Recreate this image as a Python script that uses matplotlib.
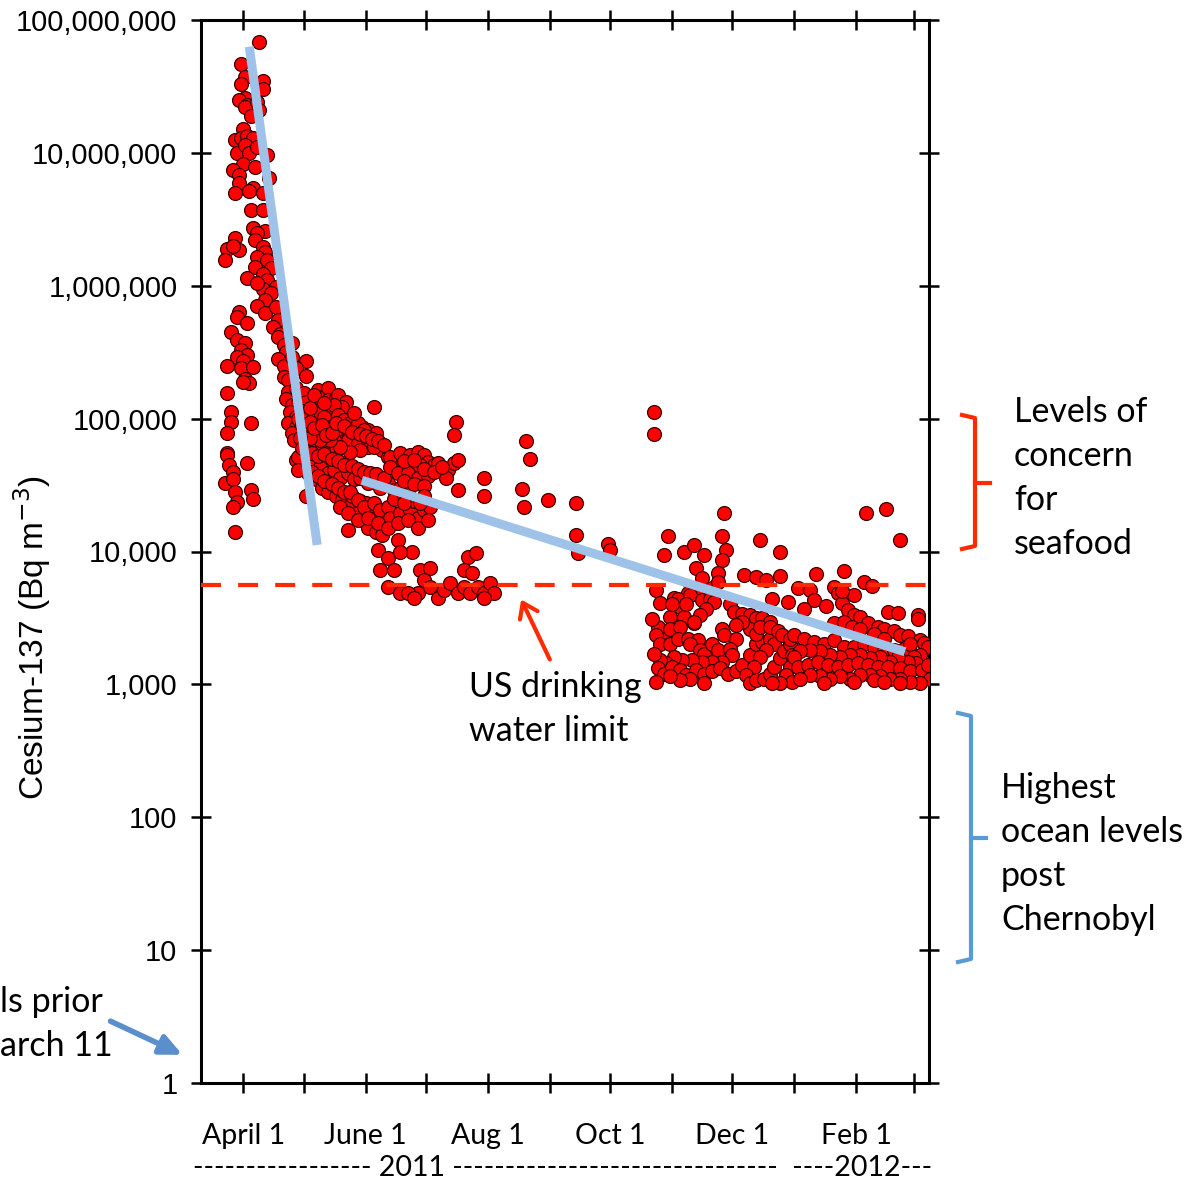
import numpy as np
import matplotlib
matplotlib.use('Agg')
import matplotlib.pyplot as plt
from matplotlib.lines import Line2D
from matplotlib.patches import FancyArrowPatch
from matplotlib.ticker import NullLocator

# ---------------- data (x = days after 2011-04-01, y = Cs-137 in Bq m^-3) ----------------
peak_pts = [(8, 6.8e7), (-1, 4.7e7), (1, 3.7e7), (10, 3.5e7), (-1, 3.3e7), (10, 3.0e7), (1, 2.6e7), (-2, 2.5e7),
            (2, 2.3e7), (1, 2.2e7), (7, 2.4e7), (8, 2.1e7), (4, 1.9e7), (0, 1.5e7), (-4, 1.26e7), (-1, 1.3e7),
            (2, 1.35e7), (5, 1.3e7), (-3, 1.0e7), (1, 1.15e7), (3, 1.0e7), (7, 1.1e7), (12, 9.6e6), (0, 8.3e6),
            (6, 7.8e6), (-5, 7.4e6), (-2, 6.8e6), (13, 6.5e6), (-2, 5.9e6), (-4, 5.0e6), (5, 5.4e6), (10, 5.0e6),
            (3, 5.2e6), (4, 3.7e6), (10, 3.7e6), (5, 2.7e6), (11, 2.6e6), (7, 2.5e6), (-4, 2.3e6), (-8, 1.9e6),
            (-2, 1.85e6), (-5, 2.0e6), (-9, 1.55e6), (6, 2.2e6), (10, 1.95e6), (11, 1.78e6), (7, 1.66e6), (12, 1.55e6),
            (14, 1.35e6), (6, 1.38e6), (10, 1.23e6), (2, 1.15e6), (12, 1.1e6), (16, 9.8e5), (10, 9.5e5), (14, 8.8e5),
            (7, 1.05e6), (11, 7.8e5), (7, 7.1e5), (11, 6.2e5), (16, 6.9e5), (17, 5.5e5), (15, 4.9e5), (18, 4.3e5)]

early_low_pts = [(-2, 6.3e5), (-3, 5.8e5), (2, 5.2e5), (-6, 4.5e5), (-3, 3.9e5), (1, 3.7e5), (-1, 3.3e5), (2, 3.0e5),
                 (-3, 2.9e5), (0, 2.7e5), (-8, 2.5e5), (-1, 2.4e5), (5, 2.45e5), (1, 2.0e5), (3, 1.85e5), (0, 1.9e5),
                 (-8, 1.55e5), (-6, 1.12e5), (-6, 9.4e4), (4, 9.3e4), (-8, 7.8e4), (-8, 5.5e4), (-8, 5.3e4), (-7, 4.5e4),
                 (2, 4.6e4), (-5, 4.0e4), (-9, 3.3e4), (-5, 3.5e4), (-4, 2.8e4), (4, 2.9e4), (5, 2.5e4), (-3, 2.35e4),
                 (-5, 2.15e4), (-4, 1.4e4)]

decline_pts = [(17, 4.1e5), (20, 3.6e5), (24, 3.7e5), (21, 3.2e5), (17, 2.8e5), (20, 2.5e5), (24, 2.9e5), (31, 2.7e5),
               (26, 2.4e5), (31, 2.1e5), (20, 2.05e5), (22, 1.95e5), (22, 1.6e5), (26, 1.7e5), (30, 1.55e5), (21, 1.4e5),
               (24, 1.26e5), (27, 1.3e5), (31, 1.33e5), (23, 1.12e5), (26, 1.03e5), (22, 9.3e4), (26, 8.7e4), (24, 7.8e4),
               (25, 6.9e4), (37, 1.63e5), (42, 1.7e5), (37, 1.45e5), (38, 1.12e5), (42, 1.38e5), (46, 1.42e5), (47, 1.5e5),
               (51, 1.33e5), (49, 1.23e5), (44, 1.1e5), (47, 1.03e5), (52, 9.8e4), (56, 9.3e4), (59, 8.7e4), (62, 8.2e4),
               (66, 7.8e4), (65, 1.22e5),
               (31, 8.7e4), (34, 7.8e4), (37, 7.2e4), (41, 8.2e4), (44, 8.7e4), (47, 7.2e4), (51, 7.8e4), (32, 6.5e4),
               (36, 5.8e4), (39, 6.1e4), (42, 6.5e4), (46, 5.8e4), (49, 6.1e4), (52, 6.5e4), (56, 7.2e4), (59, 6.9e4),
               (62, 6.1e4), (66, 6.5e4), (69, 5.8e4), (72, 5.1e4),
               (26, 4.9e4), (30, 4.3e4), (32, 3.9e4), (36, 3.5e4), (39, 3.0e4), (42, 2.8e4), (46, 2.6e4), (49, 2.45e4),
               (52, 2.15e4), (56, 1.95e4), (59, 1.73e4), (62, 1.5e4), (66, 1.4e4), (69, 1.32e4), (31, 2.6e4),
               (45, 1.26e5), (40, 1.03e5), (47, 1.07e5), (50, 9.8e4), (43, 8.7e4), (48, 8.5e4), (53, 9.3e4), (57, 9.3e4),
               (60, 8.2e4), (55, 7.5e4), (52, 6.9e4), (57, 6.5e4), (62, 6.9e4), (65, 6.1e4), (58, 5.8e4), (53, 5.6e4),
               (48, 6.1e4), (43, 6.9e4), (38, 6.9e4), (33, 7.2e4), (28, 7.2e4), (27, 5.1e4), (27, 4.1e4), (32, 4.6e4),
               (35, 4.9e4), (38, 4.3e4), (42, 3.9e4), (45, 4.1e4), (48, 3.6e4), (52, 3.9e4), (55, 3.5e4), (58, 3.6e4),
               (62, 3.3e4), (65, 3.5e4), (68, 3.0e4), (72, 3.3e4), (75, 2.9e4), (78, 3.0e4), (82, 2.8e4),
               (27, 1.0e5), (29, 9.0e4), (33, 9.5e4), (35, 8.5e4), (39, 9.0e4), (41, 7.5e4), (44, 7.8e4), (46, 9.3e4),
               (50, 8.8e4), (54, 8.0e4), (58, 7.6e4), (61, 7.4e4), (64, 7.0e4), (67, 6.8e4), (70, 6.3e4), (29, 6.0e4),
               (34, 5.5e4), (37, 5.2e4), (40, 5.4e4), (44, 5.0e4), (47, 4.8e4), (50, 4.5e4), (54, 4.4e4), (57, 4.2e4),
               (60, 4.0e4), (63, 3.9e4), (66, 3.8e4), (70, 3.6e4), (34, 4.0e4), (37, 3.7e4), (40, 3.4e4), (44, 3.2e4),
               (47, 3.0e4), (50, 2.8e4), (54, 2.6e4), (58, 2.4e4), (61, 2.3e4), (64, 2.0e4), (68, 1.9e4), (71, 1.7e4),
               (74, 1.6e4), (29, 1.15e5), (33, 1.2e5), (35, 1.5e5), (40, 1.3e5), (55, 1.1e5)]

summer_pts = [(73, 5.1e4), (78, 5.5e4), (83, 5.3e4), (87, 5.6e4), (90, 5.3e4), (92, 4.7e4), (88, 4.5e4), (83, 4.2e4),
              (78, 4.3e4), (73, 4.3e4), (77, 3.9e4), (82, 3.9e4), (87, 3.6e4), (92, 3.7e4), (95, 4.5e4), (97, 4.6e4),
              (102, 4.1e4), (105, 4.6e4), (107, 4.9e4), (101, 3.6e4), (106, 9.4e4), (105, 7.5e4), (107, 2.9e4),
              (120, 3.6e4), (120, 2.6e4),
              (53, 2.8e4), (57, 2.45e4), (60, 2.15e4), (65, 2.3e4), (68, 2.05e4), (72, 2.15e4), (73, 1.8e4), (78, 1.95e4),
              (83, 2.05e4), (87, 1.8e4), (90, 2.05e4), (93, 2.15e4), (48, 2.15e4), (52, 1.95e4), (57, 1.73e4),
              (62, 1.8e4), (67, 1.63e4), (72, 1.5e4), (77, 1.63e4), (82, 1.73e4), (87, 1.5e4), (92, 1.73e4),
              (52, 1.45e4), (67, 1.02e4), (77, 1.22e4), (84, 1.0e4), (72, 8.9e3), (78, 1.0e4), (68, 7.2e3), (75, 7.2e3),
              (72, 5.4e3), (78, 4.9e3),
              (88, 7.2e3), (93, 7.5e3), (90, 6.1e3), (87, 4.9e3), (93, 5.4e3), (97, 4.5e3), (100, 5.1e3), (103, 5.8e3),
              (107, 4.9e3), (110, 5.4e3), (113, 4.9e3), (117, 5.4e3), (120, 4.9e3), (123, 5.8e3), (125, 4.9e3),
              (112, 9.1e3), (116, 9.7e3), (110, 7.2e3), (114, 6.9e3), (82, 4.9e3), (85, 4.5e3), (120, 4.5e3),
              (80, 4.8e4), (85, 4.9e4), (90, 4.2e4), (95, 4.0e4), (99, 4.3e4), (80, 3.4e4), (85, 3.2e4), (90, 3.1e4),
              (75, 2.5e4), (80, 2.6e4), (85, 2.4e4), (90, 2.6e4), (80, 2.3e4), (88, 2.3e4)]

autumn_pts = [(141, 6.8e4), (143, 5.0e4), (139, 2.95e4), (140, 2.15e4), (152, 2.45e4), (166, 2.3e4), (166, 1.32e4),
              (167, 9.8e3), (182, 1.14e4), (183, 1.02e4), (205, 1.12e5), (205, 7.6e4)]

winter_pts = [(212, 1.3e4), (240, 1.95e4), (239, 1.3e4), (258, 1.22e4), (268, 1.0e4), (210, 9.4e3), (220, 1.0e4),
              (225, 1.12e4), (230, 9.4e3), (241, 1.02e4), (239, 8.6e3), (226, 7.5e3), (237, 6.9e3), (229, 6.3e3),
              (250, 6.6e3), (256, 6.4e3), (261, 6.1e3), (268, 6.5e3), (206, 5.1e3), (208, 4.1e3), (215, 4.5e3),
              (222, 4.9e3), (218, 3.8e3), (228, 5.1e3), (232, 4.5e3), (234, 5.3e3), (237, 5.9e3), (213, 3.2e3),
              (220, 3.2e3), (225, 2.9e3), (217, 2.7e3), (211, 2.3e3), (207, 2.7e3),
              (311, 1.95e4), (321, 2.1e4), (328, 1.22e4), (286, 6.8e3), (300, 7.1e3), (277, 5.3e3), (283, 5.1e3),
              (295, 5.4e3), (297, 4.9e3), (310, 5.9e3), (314, 5.5e3), (305, 4.7e3), (285, 4.3e3), (291, 3.9e3),
              (299, 4.1e3), (302, 3.6e3), (322, 3.5e3), (327, 3.45e3), (337, 3.3e3), (337, 3.1e3), (305, 3.3e3),
              (308, 3.2e3), (312, 2.9e3), (317, 2.7e3), (320, 2.6e3), (325, 2.5e3), (328, 2.35e3), (332, 2.3e3),
              (338, 2.15e3), (340, 2.05e3),
              (217, 4.4e3), (223, 4.7e3), (214, 4.0e3), (221, 4.0e3), (229, 4.3e3), (233, 4.4e3), (235, 4.2e3),
              (231, 3.7e3), (228, 3.3e3), (225, 2.95e3), (213, 2.6e3), (218, 2.7e3), (206, 2.35e3), (208, 2.0e3),
              (213, 2.0e3), (217, 2.2e3), (222, 2.2e3), (227, 2.15e3), (223, 2.0e3), (228, 1.8e3), (230, 1.7e3),
              (234, 2.0e3), (237, 1.8e3), (239, 2.6e3), (240, 2.35e3), (246, 2.2e3), (243, 1.86e3), (244, 1.66e3),
              (239, 1.48e3), (234, 1.48e3), (229, 1.48e3), (224, 1.52e3), (219, 1.52e3), (215, 1.6e3), (211, 1.44e3),
              (208, 1.52e3), (207, 1.32e3), (210, 1.2e3), (214, 1.35e3), (218, 1.28e3), (221, 1.18e3), (226, 1.28e3),
              (230, 1.2e3), (234, 1.25e3), (238, 1.32e3), (242, 1.2e3), (246, 1.25e3), (249, 1.4e3), (253, 1.66e3),
              (256, 2.0e3), (259, 2.1e3), (263, 2.2e3), (265, 2.0e3), (261, 1.8e3), (258, 1.6e3), (255, 1.35e3),
              (251, 1.18e3), (253, 1.02e3), (256, 1.08e3), (260, 1.1e3), (263, 1.2e3), (265, 1.35e3), (268, 1.58e3),
              (270, 1.77e3), (273, 2.0e3), (274, 1.66e3), (273, 1.35e3), (271, 1.18e3), (274, 1.05e3), (268, 1.02e3),
              (264, 1.03e3), (230, 1.03e3), (223, 1.1e3), (218, 1.08e3), (213, 1.15e3), (243, 4.0e3), (245, 3.5e3),
              (249, 3.4e3), (253, 3.3e3), (256, 3.15e3), (259, 3.15e3), (263, 2.95e3), (253, 2.6e3), (256, 2.4e3),
              (258, 2.7e3), (263, 2.7e3), (267, 2.5e3), (269, 2.35e3), (273, 2.2e3), (264, 4.4e3), (272, 4.2e3),
              (249, 2.95e3), (246, 2.8e3), (204, 3.1e3), (205, 1.7e3), (206, 1.05e3),
              (299, 5.0e3), (280, 3.7e3), (295, 2.9e3), (300, 2.95e3), (304, 2.7e3), (308, 2.6e3), (315, 2.4e3),
              (320, 2.2e3), (275, 2.35e3), (280, 2.2e3), (285, 2.1e3), (290, 2.0e3), (295, 2.15e3), (300, 1.9e3),
              (305, 1.9e3), (310, 2.0e3), (315, 1.9e3), (320, 1.8e3), (325, 1.8e3), (330, 1.86e3), (333, 2.0e3),
              (342, 1.9e3), (338, 1.66e3), (335, 1.6e3), (336, 1.44e3), (332, 1.48e3), (327, 1.6e3), (323, 1.48e3),
              (318, 1.6e3), (313, 1.58e3), (308, 1.66e3), (303, 1.66e3), (298, 1.6e3), (293, 1.66e3), (288, 1.77e3),
              (283, 1.8e3), (278, 1.77e3), (275, 1.6e3), (277, 1.35e3), (282, 1.4e3), (287, 1.48e3), (292, 1.4e3),
              (297, 1.35e3), (302, 1.4e3), (307, 1.44e3), (312, 1.4e3), (317, 1.35e3), (322, 1.35e3), (328, 1.32e3),
              (333, 1.25e3), (339, 1.28e3), (342, 1.4e3), (343, 1.1e3), (338, 1.02e3), (333, 1.05e3), (328, 1.1e3),
              (323, 1.1e3), (318, 1.15e3), (313, 1.18e3), (308, 1.18e3), (303, 1.1e3), (298, 1.15e3), (293, 1.1e3),
              (288, 1.15e3), (283, 1.18e3), (278, 1.1e3), (290, 1.02e3), (305, 1.05e3), (315, 1.08e3), (320, 1.05e3),
              (328, 1.02e3)]

# trend lines
fit_spring_days = [2.9, 36.8]
fit_spring_vals = [6.3e7, 1.12e4]
fit_decay_days = [59.1, 330.3]
fit_decay_vals = [3.44e4, 1.76e3]

drinking_water_limit = 5600

y_ticks = [1, 10, 100, 1000, 1e4, 1e5, 1e6, 1e7, 1e8]
month_starts = ['2011-04-01', '2011-05-01', '2011-06-01', '2011-07-01', '2011-08-01', '2011-09-01',
                '2011-10-01', '2011-11-01', '2011-12-01', '2012-01-01', '2012-02-01', '2012-03-01']
month_labels = ['April 1', '', 'June 1', '', 'Aug 1', '', 'Oct 1', '', 'Dec 1', '', 'Feb 1', '']
x_range = (-21.2, 342.3)

# ---------------- figure ----------------
W, H = 1193, 1183
fig = plt.figure(figsize=(W / 100, H / 100), dpi=100)


def fx(px):
    return px / W


def fy(py):
    return 1 - py / H


ax = fig.add_axes([fx(201), fy(1083), fx(929) - fx(201), fy(20) - fy(1083)])

all_pts = peak_pts + early_low_pts + decline_pts + summer_pts + autumn_pts + winter_pts
xs = [p[0] for p in all_pts]
ys = [p[1] for p in all_pts]
ax.scatter(xs, ys, s=100, c='#FF0000', edgecolors='#3A0000', linewidths=0.9, zorder=3)

ax.axhline(drinking_water_limit, color='#FF2A00', lw=3, dashes=(4.8, 4.1), zorder=4)
ax.plot(fit_spring_days, fit_spring_vals, color='#9FC3E8', lw=6.5, solid_capstyle='butt', zorder=5)
ax.plot(fit_decay_days, fit_decay_vals, color='#9FC3E8', lw=6.5, solid_capstyle='butt', zorder=5)

ax.set_yscale('log')
ax.set_ylim(1, 1e8)
ax.set_xlim(*x_range)

ax.set_yticks(y_ticks)
ax.set_yticklabels([f"{int(v):,}" for v in y_ticks], fontfamily='Liberation Sans', fontsize=21)
ax.yaxis.set_minor_locator(NullLocator())

month_days = (np.array(month_starts, dtype='datetime64[D]') - np.datetime64('2011-04-01')).astype(int)
ax.set_xticks(month_days)
ax.set_xticklabels(month_labels, fontfamily='Lato', fontsize=20.5)

ax.tick_params(axis='both', which='major', direction='inout', length=14, width=1.8,
               top=True, right=True, color='black')
ax.tick_params(axis='y', pad=10)
ax.tick_params(axis='x', pad=22)
for sp in ax.spines.values():
    sp.set_linewidth(2.2)

fig.text(fx(32), fy(637), 'Cesium-137 (Bq m$^{-3}$)', rotation=90, ha='center', va='center',
         fontfamily='Liberation Sans', fontsize=24)

fig.text(fx(193), fy(1168), '-' * 17 + ' 2011 ' + '-' * 31 + '  ----2012---',
         fontfamily='Lato', fontsize=20.5, ha='left', va='center')

ann_font = dict(fontfamily='Lato', fontsize=24.5, ha='left', va='center', linespacing=1.45)
fig.text(fx(1014), fy(478), 'Levels of\nconcern\nfor\nseafood', **ann_font)
fig.text(fx(1001), fy(854), 'Highest\nocean levels\npost\nChernobyl', **ann_font)
fig.text(fx(469), fy(709), 'US drinking\nwater limit', **ann_font)
fig.text(fx(0), fy(1024), 'ls prior\narch 11', **ann_font)

red = '#FF2A00'
blue_br = '#5B9BD5'
fig.add_artist(Line2D([fx(962), fx(975), fx(975), fx(962)], [fy(415), fy(418), fy(546), fy(549)],
                      transform=fig.transFigure, color=red, lw=3, solid_joinstyle='round'))
fig.add_artist(Line2D([fx(975), fx(990)], [fy(483), fy(483)], transform=fig.transFigure, color=red, lw=3))
fig.add_artist(Line2D([fx(958), fx(971), fx(971), fx(958)], [fy(713), fy(716), fy(959), fy(962)],
                      transform=fig.transFigure, color=blue_br, lw=3, solid_joinstyle='round'))
fig.add_artist(Line2D([fx(971), fx(986)], [fy(838), fy(838)], transform=fig.transFigure, color=blue_br, lw=3))

fig.add_artist(FancyArrowPatch((fx(551), fy(662)), (fx(520), fy(597)), transform=fig.transFigure,
                               arrowstyle='->,head_length=10,head_width=7', color=red, lw=3))
fig.add_artist(FancyArrowPatch((fx(108), fy(1020)), (fx(185), fy(1056)), transform=fig.transFigure,
                               arrowstyle='-|>,head_length=13,head_width=6', color='#5B8FCB', lw=4))

fig.savefig('out.png', dpi=100)
